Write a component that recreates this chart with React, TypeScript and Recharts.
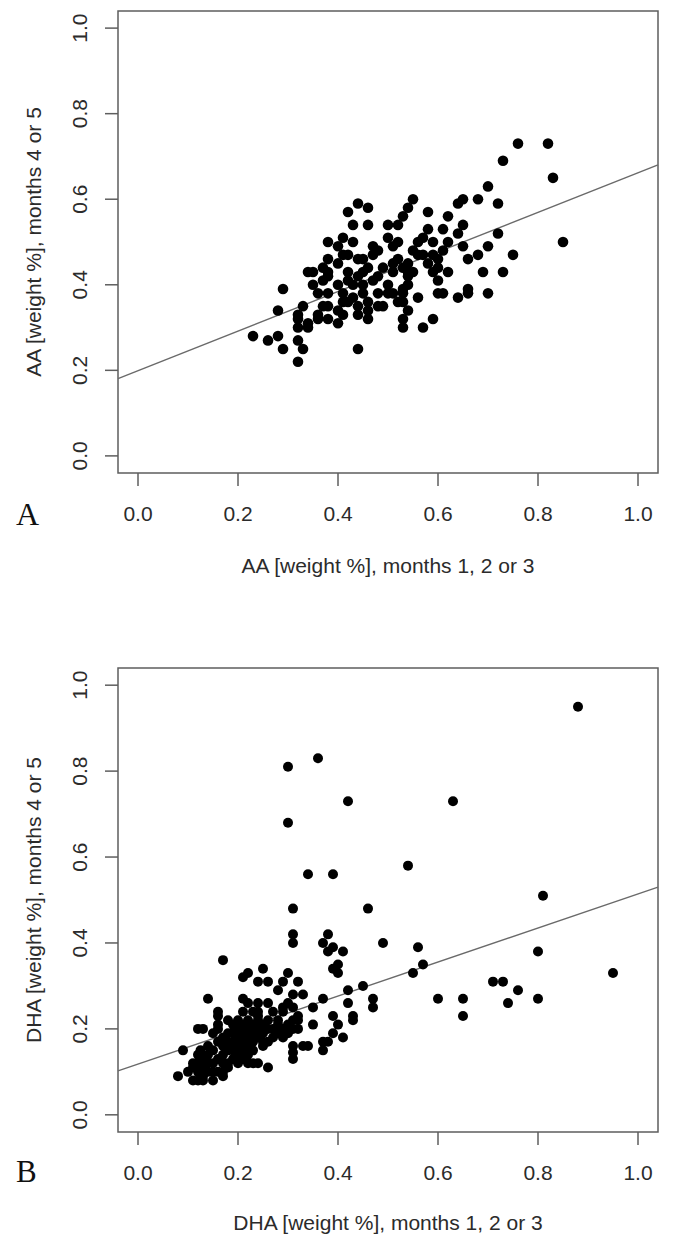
import { ReferenceArea, ReferenceLine, Scatter, ScatterChart, XAxis, YAxis } from "recharts"

type Pt = [number, number]

const ticks = [0, 0.2, 0.4, 0.6, 0.8, 1.0]
const domain: [number, number] = [-0.04, 1.04]

// AA: months 1-3 (x) vs months 4-5 (y)
const aaPoints: Pt[] = [
  [0.44, 0.59], [0.42, 0.57], [0.46, 0.58], [0.43, 0.54], [0.46, 0.54], [0.38, 0.50], [0.41, 0.51], [0.40, 0.49],
  [0.43, 0.50], [0.47, 0.49], [0.50, 0.51], [0.50, 0.54], [0.52, 0.54], [0.53, 0.56], [0.54, 0.58], [0.38, 0.46],
  [0.41, 0.47], [0.42, 0.47], [0.44, 0.46], [0.45, 0.46], [0.48, 0.48], [0.47, 0.47], [0.51, 0.49], [0.52, 0.50],
  [0.34, 0.43], [0.35, 0.43], [0.37, 0.44], [0.38, 0.43], [0.40, 0.45], [0.38, 0.42], [0.37, 0.41], [0.42, 0.43],
  [0.42, 0.41], [0.44, 0.42], [0.45, 0.43], [0.46, 0.44], [0.47, 0.41], [0.45, 0.40], [0.48, 0.42], [0.49, 0.44],
  [0.51, 0.45], [0.51, 0.43], [0.53, 0.44], [0.54, 0.42], [0.50, 0.40], [0.51, 0.38], [0.53, 0.38], [0.48, 0.38],
  [0.50, 0.38], [0.29, 0.39], [0.35, 0.40], [0.36, 0.38], [0.38, 0.38], [0.40, 0.40], [0.41, 0.38], [0.43, 0.40],
  [0.45, 0.38], [0.43, 0.37], [0.41, 0.36], [0.42, 0.36], [0.44, 0.35], [0.46, 0.36], [0.48, 0.35], [0.49, 0.35],
  [0.52, 0.36], [0.37, 0.35], [0.38, 0.35], [0.36, 0.33], [0.40, 0.34], [0.41, 0.33], [0.44, 0.33], [0.46, 0.34],
  [0.36, 0.32], [0.38, 0.32], [0.40, 0.31], [0.46, 0.32], [0.53, 0.32], [0.53, 0.30], [0.33, 0.35], [0.32, 0.33],
  [0.32, 0.32], [0.34, 0.31], [0.32, 0.30], [0.34, 0.30], [0.28, 0.34], [0.23, 0.28], [0.26, 0.27], [0.28, 0.28],
  [0.29, 0.25], [0.32, 0.27], [0.33, 0.25], [0.32, 0.22], [0.44, 0.25],
  [0.76, 0.73], [0.82, 0.73], [0.73, 0.69], [0.83, 0.65], [0.70, 0.63], [0.55, 0.60], [0.64, 0.59], [0.65, 0.60],
  [0.68, 0.60], [0.72, 0.59], [0.58, 0.57], [0.62, 0.56], [0.58, 0.53], [0.61, 0.53], [0.65, 0.54], [0.64, 0.52],
  [0.56, 0.50], [0.57, 0.51], [0.59, 0.50], [0.62, 0.50], [0.72, 0.52], [0.85, 0.50], [0.55, 0.48], [0.56, 0.47],
  [0.57, 0.47], [0.59, 0.47], [0.61, 0.48], [0.65, 0.49], [0.70, 0.49], [0.52, 0.46], [0.54, 0.45], [0.58, 0.45],
  [0.60, 0.46], [0.66, 0.46], [0.68, 0.47], [0.75, 0.47], [0.54, 0.43], [0.55, 0.43], [0.59, 0.43], [0.60, 0.44],
  [0.62, 0.43], [0.60, 0.41], [0.69, 0.43], [0.73, 0.43], [0.53, 0.39], [0.54, 0.40], [0.56, 0.37], [0.60, 0.38],
  [0.61, 0.38], [0.64, 0.37], [0.66, 0.39], [0.66, 0.38], [0.70, 0.38], [0.53, 0.36], [0.54, 0.34], [0.59, 0.32],
  [0.57, 0.30],
]

// DHA: months 1-3 (x) vs months 4-5 (y)
const dhaPoints: Pt[] = [
  [0.30, 0.81], [0.36, 0.83], [0.30, 0.68], [0.34, 0.56], [0.39, 0.56], [0.31, 0.48], [0.31, 0.42], [0.31, 0.40],
  [0.88, 0.95], [0.42, 0.73], [0.63, 0.73], [0.54, 0.58], [0.46, 0.48], [0.81, 0.51], [0.95, 0.33],
  [0.38, 0.42], [0.37, 0.40], [0.39, 0.39], [0.38, 0.38], [0.41, 0.38], [0.49, 0.40], [0.56, 0.39], [0.80, 0.38],
  [0.40, 0.35], [0.39, 0.34], [0.40, 0.33], [0.57, 0.35], [0.55, 0.33], [0.71, 0.31], [0.73, 0.31], [0.76, 0.29],
  [0.74, 0.26], [0.80, 0.27], [0.45, 0.30], [0.42, 0.29], [0.42, 0.26], [0.47, 0.27], [0.47, 0.25], [0.60, 0.27],
  [0.65, 0.27], [0.65, 0.23], [0.37, 0.27], [0.35, 0.25], [0.33, 0.28], [0.32, 0.31], [0.39, 0.23], [0.43, 0.23],
  [0.43, 0.22], [0.40, 0.21], [0.35, 0.21], [0.39, 0.19], [0.41, 0.18], [0.38, 0.17], [0.37, 0.17], [0.37, 0.15],
  [0.33, 0.16], [0.34, 0.16], [0.32, 0.22], [0.32, 0.20],
  [0.17, 0.36], [0.22, 0.33], [0.21, 0.32], [0.25, 0.34], [0.24, 0.31], [0.26, 0.31], [0.30, 0.33], [0.29, 0.31],
  [0.28, 0.29], [0.31, 0.28], [0.14, 0.27], [0.21, 0.27], [0.22, 0.26], [0.24, 0.26], [0.26, 0.26], [0.30, 0.26],
  [0.29, 0.25], [0.31, 0.25], [0.32, 0.23], [0.16, 0.23], [0.24, 0.23], [0.12, 0.20], [0.13, 0.20], [0.16, 0.21],
  [0.09, 0.15], [0.08, 0.09], [0.11, 0.08], [0.13, 0.09], [0.15, 0.08], [0.17, 0.09], [0.11, 0.12], [0.10, 0.10],
  [0.22, 0.12], [0.23, 0.12], [0.24, 0.12], [0.26, 0.11], [0.31, 0.13], [0.31, 0.145], [0.31, 0.16],
  [0.12, 0.08], [0.13, 0.08], [0.12, 0.10], [0.14, 0.10], [0.15, 0.10], [0.16, 0.10], [0.17, 0.10],
  [0.11, 0.11], [0.13, 0.11], [0.18, 0.11], [0.12, 0.12], [0.14, 0.12], [0.15, 0.12], [0.17, 0.12], [0.18, 0.12],
  [0.20, 0.12], [0.13, 0.13], [0.16, 0.13], [0.19, 0.13], [0.21, 0.13], [0.12, 0.14], [0.14, 0.14], [0.17, 0.14],
  [0.20, 0.14], [0.22, 0.14], [0.125, 0.15], [0.15, 0.15], [0.18, 0.15], [0.19, 0.15], [0.21, 0.15], [0.23, 0.15],
  [0.14, 0.16], [0.17, 0.16], [0.20, 0.16], [0.22, 0.16], [0.25, 0.16], [0.16, 0.17], [0.18, 0.17], [0.19, 0.17],
  [0.21, 0.17], [0.23, 0.17], [0.25, 0.17], [0.26, 0.17], [0.17, 0.18], [0.20, 0.18], [0.22, 0.18], [0.24, 0.18],
  [0.27, 0.18], [0.29, 0.18], [0.15, 0.19], [0.18, 0.19], [0.19, 0.19], [0.21, 0.19], [0.23, 0.19], [0.25, 0.19],
  [0.28, 0.19], [0.30, 0.19], [0.16, 0.20], [0.20, 0.20], [0.22, 0.20], [0.24, 0.20], [0.26, 0.20], [0.27, 0.20],
  [0.29, 0.20], [0.31, 0.20], [0.19, 0.21], [0.21, 0.21], [0.23, 0.21], [0.25, 0.21], [0.28, 0.21], [0.30, 0.21],
  [0.18, 0.22], [0.20, 0.22], [0.22, 0.22], [0.24, 0.22], [0.26, 0.22], [0.28, 0.22], [0.31, 0.22], [0.16, 0.24],
  [0.21, 0.24], [0.23, 0.24], [0.24, 0.24], [0.27, 0.24], [0.29, 0.24],
]

// least-squares fits as [intercept, slope]
const aaFit: Pt = [0.199, 0.463]
const dhaFit: Pt = [0.118, 0.396]

const FONT = '"Liberation Sans", Arial, sans-serif'
const INK = "#2b2b2b"
const FRAME = "#5e5e5e"

function YTick({ x, y, payload }: any) {
  return (
    <text
      x={x}
      y={y}
      transform={`rotate(-90 ${x} ${y})`}
      textAnchor="middle"
      fontFamily={FONT}
      fontSize={21}
      fill={INK}
    >
      {Number(payload.value).toFixed(1)}
    </text>
  )
}

function XTick({ x, y, payload }: any) {
  return (
    <text x={x} y={y} textAnchor="middle" fontFamily={FONT} fontSize={21} fill={INK}>
      {Number(payload.value).toFixed(1)}
    </text>
  )
}

interface PanelProps {
  points: Pt[]
  fit: Pt
  xTitle: string
  yTitle: string
  height: number
  top: number
  plotTop: number
  axisHeight: number
  titleGap: number
  r: number
}

function Panel({ points, fit, xTitle, yTitle, height, top, plotTop, axisHeight, titleGap, r }: PanelProps) {
  const data = points.map(([x, y]) => ({ x, y }))
  const [a, b] = fit
  const segment = [
    { x: domain[0], y: a + b * domain[0] },
    { x: domain[1], y: a + b * domain[1] },
  ]

  return (
    <div style={{ position: "absolute", left: 0, top }}>
      <ScatterChart width={676} height={height} margin={{ top: plotTop, right: 18, left: 0, bottom: 0 }}>
        <XAxis
          type="number"
          dataKey="x"
          domain={domain}
          ticks={ticks}
          allowDataOverflow
          height={axisHeight}
          axisLine={false}
          tickLine={{ stroke: FRAME, strokeWidth: 1.5 }}
          tickSize={13}
          tickMargin={35}
          tick={<XTick />}
          label={(p: any) => (
            <text
              x={p.viewBox.x + p.viewBox.width / 2}
              y={p.viewBox.y + titleGap}
              textAnchor="middle"
              fontFamily={FONT}
              fontSize={21}
              fill={INK}
            >
              {xTitle}
            </text>
          )}
        />
        <YAxis
          type="number"
          dataKey="y"
          domain={domain}
          ticks={ticks}
          allowDataOverflow
          width={118}
          axisLine={false}
          tickLine={{ stroke: FRAME, strokeWidth: 1.5 }}
          tickSize={13}
          tickMargin={18}
          tick={<YTick />}
          label={(p: any) => {
            const cx = p.viewBox.x + 41
            const cy = p.viewBox.y + p.viewBox.height / 2
            return (
              <text
                x={cx}
                y={cy}
                transform={`rotate(-90 ${cx} ${cy})`}
                textAnchor="middle"
                fontFamily={FONT}
                fontSize={21}
                fill={INK}
              >
                {yTitle}
              </text>
            )
          }}
        />
        <ReferenceArea
          x1={domain[0]}
          x2={domain[1]}
          y1={domain[0]}
          y2={domain[1]}
          fill="none"
          fillOpacity={0}
          stroke={FRAME}
          strokeWidth={1.5}
        />
        <Scatter
          data={data}
          isAnimationActive={false}
          shape={(p: any) => <circle cx={p.cx} cy={p.cy} r={r} fill="#000" />}
        />
        <ReferenceLine segment={segment} stroke="#6a6a6a" strokeWidth={1.4} />
      </ScatterChart>
    </div>
  )
}

export default function App() {
  return (
    <div style={{ position: "absolute", left: 0, top: 0, width: 676, height: 1249, background: "#fff" }}>
      <Panel
        points={aaPoints}
        fit={aaFit}
        xTitle="AA [weight %], months 1, 2 or 3"
        yTitle="AA [weight %], months 4 or 5"
        height={620}
        top={0}
        plotTop={11}
        axisHeight={147}
        titleGap={100}
        r={5.3}
      />
      <Panel
        points={dhaPoints}
        fit={dhaFit}
        xTitle="DHA [weight %], months 1, 2 or 3"
        yTitle="DHA [weight %], months 4 or 5"
        height={629}
        top={620}
        plotTop={48}
        axisHeight={117}
        titleGap={98}
        r={5}
      />
      <svg width={676} height={1249} style={{ position: "absolute", left: 0, top: 0, pointerEvents: "none" }}>
        <text x={16} y={525} fontFamily='"Liberation Serif", "Times New Roman", serif' fontSize={32} fill="#111">
          A
        </text>
        <text x={16} y={1182} fontFamily='"Liberation Serif", "Times New Roman", serif' fontSize={31} fill="#111">
          B
        </text>
      </svg>
    </div>
  )
}
